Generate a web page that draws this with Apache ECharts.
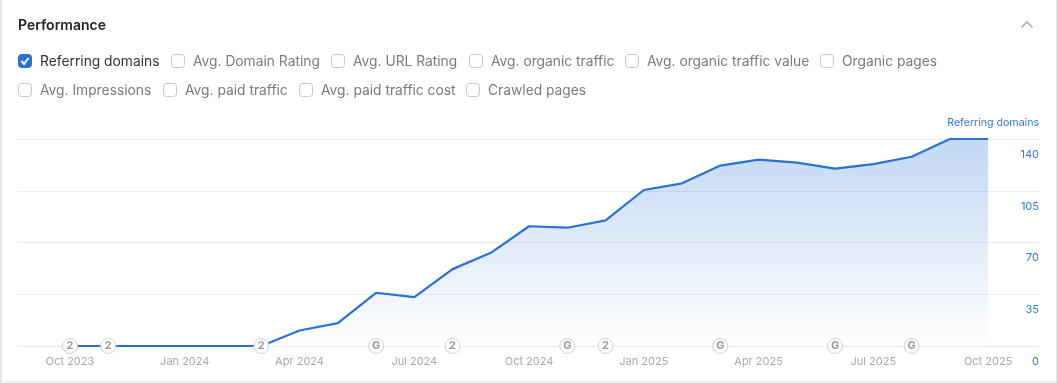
<!DOCTYPE html>
<html><head><meta charset="utf-8">
<style>html,body{margin:0;padding:0;background:#fff}#c{width:1057px;height:383px}</style>
<script src="https://cdn.jsdelivr.net/npm/echarts@6/dist/echarts.min.js"></script>
</head><body><div id="c"></div>
<script>
const months = ['Oct 2023','Nov 2023','Dec 2023','Jan 2024','Feb 2024','Mar 2024','Apr 2024','May 2024','Jun 2024','Jul 2024','Aug 2024','Sep 2024','Oct 2024','Nov 2024','Dec 2024','Jan 2025','Feb 2025','Mar 2025','Apr 2025','May 2025','Jun 2025','Jul 2025','Aug 2025','Sep 2025','Oct 2025'];
const referringDomains = [0,0,0,0,0,0,10.5,15.5,36,33,52,63,81,80,85,105.5,110,122,126,124,120,123,128,140,140];
const tickMonths = ['Oct 2023','Jan 2024','Apr 2024','Jul 2024','Oct 2024','Jan 2025','Apr 2025','Jul 2025','Oct 2025'];
const yTicks = [0,35,70,105,140];
const pinMonths = ['Oct 2023','Nov 2023','Mar 2024','Jun 2024','Aug 2024','Nov 2024','Dec 2024','Mar 2025','Jun 2025','Aug 2025'];
const pinLabels = ['2','2','2','G','2','G','2','G','G','G'];
const rowOne = ['Referring domains','Avg. Domain Rating','Avg. URL Rating','Avg. organic traffic','Avg. organic traffic value','Organic pages'];
const rowTwo = ['Avg. Impressions','Avg. paid traffic','Avg. paid traffic cost','Crawled pages'];
const rowOneX = [18,171,331,469,625,820];
const rowTwoX = [18,163,299,466];

const FONT = 'Inter, "Noto Sans", sans-serif';
const BLUE = '#2872d6';
const gfx = [];
function box(label, x, cy, checked){
  gfx.push({type:'rect',shape:{x:x+.5,y:cy-6.5,width:13,height:13,r:3},
    style:{fill:checked?BLUE:'#fff',stroke:checked?BLUE:'#c9c9c9',lineWidth:1}});
  if(checked) gfx.push({type:'polyline',shape:{points:[[x+3.5,cy],[x+6,cy+3],[x+10.5,cy-3]]},
    style:{fill:'none',stroke:'#fff',lineWidth:2}});
  gfx.push({type:'text',x:x+22,y:cy+1,style:{text:label,font:'400 13.8px '+FONT,fill:checked?'#333':'#7b7b7b',textVerticalAlign:'middle',verticalAlign:'middle'}});
}
rowOne.forEach((t,i)=>box(t,rowOneX[i],61,i===0));
rowTwo.forEach((t,i)=>box(t,rowTwoX[i],90,false));
gfx.push({type:'polyline',shape:{points:[[1021.5,27.5],[1027,22],[1032.5,27.5]]},style:{fill:'none',stroke:'#a8a8a8',lineWidth:1.5}});
gfx.push({type:'rect',shape:{x:0,y:0,width:2,height:383},style:{fill:'#e6e6e6'}});
gfx.push({type:'rect',shape:{x:0,y:381,width:1057,height:1},style:{fill:'#e6e6e6'}});
gfx.push({type:'rect',shape:{x:1056,y:0,width:1,height:383},style:{fill:'#e6e6e6'}});
gfx.push({type:'text',x:1039,y:123,style:{text:'Referring domains',font:'400 10.6px '+FONT,fill:'#2f78d8',align:'right',textAlign:'right',verticalAlign:'middle',textVerticalAlign:'middle'}});

const chart = echarts.init(document.getElementById('c'),null,{renderer:'canvas'});
chart.setOption({
  animation:false,
  title:{text:'Performance',left:18,top:19,padding:0,textStyle:{fontFamily:FONT,fontSize:14,fontWeight:600,color:'#222'}},
  grid:{left:18,right:18,top:139,bottom:37,containLabel:false,outerBoundsMode:'none'},
  xAxis:{type:'value',min:-1.36,max:25.33,
    axisLine:{show:false},axisTick:{show:false},splitLine:{show:false},
    axisLabel:{customValues:tickMonths.map(m=>months.indexOf(m)),formatter:v=>months[v],
      color:'#a9a9a9',fontFamily:FONT,fontSize:11,margin:10,hideOverlap:false,showMinLabel:true,showMaxLabel:true}},
  yAxis:{type:'value',position:'right',min:0,max:140,interval:35,
    axisLine:{show:false},axisTick:{show:false},
    splitLine:{show:true,lineStyle:{color:'#ededed',width:1}},
    axisLabel:{customValues:yTicks,inside:true,margin:0,align:'right',verticalAlign:'top',padding:[10,0,0,0],
      color:'#2f78d8',fontFamily:FONT,fontSize:11}},
  series:[
    {type:'line',data:referringDomains.map((v,i)=>[i,v]),symbol:'none',clip:false,z:2,
     lineStyle:{color:BLUE,width:2.2},
     areaStyle:{color:new echarts.graphic.LinearGradient(0,0,0,1,[{offset:0,color:'rgba(40,114,214,0.40)'},{offset:1,color:'rgba(40,114,214,0)'}])}},
    {type:'scatter',data:pinMonths.map((m,i)=>({value:[months.indexOf(m),0],label:{formatter:pinLabels[i]}})),clip:false,z:5,
     symbol:'circle',symbolSize:15,
     itemStyle:{color:'#fff',borderColor:'#cfcfcf',borderWidth:1,opacity:1},
     label:{show:true,position:'inside',color:'#9a9a9a',fontFamily:FONT,fontSize:11,fontWeight:700}}
  ],
  graphic:gfx
});
</script></body></html>
